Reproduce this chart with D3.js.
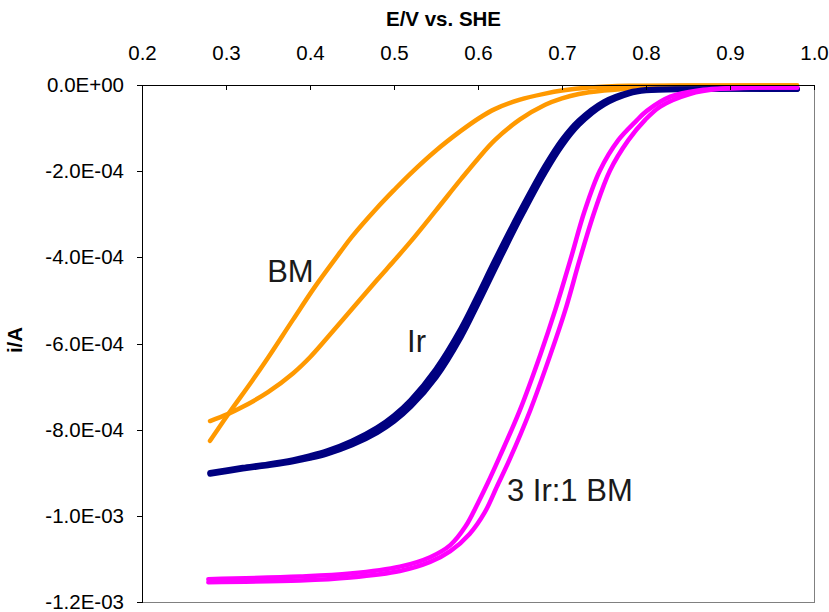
<!DOCTYPE html>
<html>
<head>
<meta charset="utf-8">
<script src="https://cdn.jsdelivr.net/npm/d3@7"></script>
<style>
    body { margin: 0; background: #fff; }
    text { font-family: "Liberation Sans", Arial, sans-serif; fill: #000; }
    .axis path, .axis line { stroke: #000; shape-rendering: crispEdges; }
    .axis text { font-size: 20.5px; }
    .title { font-size: 20.5px; font-weight: bold; }
    .anno { font-size: 31px; fill: #1a1a1a; }
</style>
</head>
<body>
<div id="chart"></div>
<script>

// E / V vs. SHE for each scan branch
let bmFwdE = [0.281, 0.302, 0.331, 0.350, 0.380, 0.406, 0.436, 0.450, 0.480, 0.500, 0.520, 0.550, 0.580, 0.602, 0.620, 0.650, 0.680, 0.700, 0.733, 0.780, 0.864, 0.980]
let bmFwdI = [-8.26, -7.66, -6.87, -6.33, -5.44, -4.68, -3.88, -3.52, -2.85, -2.44, -2.05, -1.52, -1.06, -0.76, -0.56, -0.34, -0.20, -0.13, -0.06, -0.02, -0.01, -0.01]

let bmRevE = [0.281, 0.302, 0.320, 0.350, 0.380, 0.400, 0.420, 0.450, 0.480, 0.500, 0.520, 0.550, 0.580, 0.600, 0.620, 0.650, 0.680, 0.700, 0.720, 0.750, 0.780, 0.800, 0.850, 0.980]
let bmRevI = [-7.80, -7.64, -7.47, -7.13, -6.69, -6.32, -5.88, -5.20, -4.52, -4.08, -3.63, -2.91, -2.18, -1.71, -1.28, -0.80, -0.46, -0.31, -0.21, -0.13, -0.08, -0.05, -0.02, -0.01]

let irE = [0.281, 0.300, 0.320, 0.350, 0.380, 0.400, 0.420, 0.450, 0.480, 0.500, 0.520, 0.550, 0.580, 0.600, 0.620, 0.650, 0.680, 0.700, 0.720, 0.750, 0.780, 0.800, 0.850, 0.980]
let irFwdI = [-9.03, -8.97, -8.91, -8.83, -8.74, -8.66, -8.56, -8.35, -8.06, -7.80, -7.46, -6.78, -5.84, -5.07, -4.27, -3.10, -2.02, -1.40, -0.92, -0.45, -0.20, -0.13, -0.10, -0.10]
let irRevI = [-9.00, -8.94, -8.88, -8.80, -8.70, -8.61, -8.50, -8.27, -7.96, -7.68, -7.32, -6.60, -5.65, -4.88, -4.08, -2.94, -1.88, -1.28, -0.83, -0.39, -0.17, -0.11, -0.09, -0.09]

let mixFwdE = [0.279, 0.388, 0.448, 0.507, 0.543, 0.567, 0.585, 0.600, 0.612, 0.626, 0.650, 0.674, 0.692, 0.710, 0.727, 0.745, 0.767, 0.787, 0.801, 0.829, 0.864, 0.924, 0.980]
let mixFwdI = [-11.47, -11.41, -11.34, -11.18, -10.96, -10.68, -10.25, -9.70, -9.22, -8.62, -7.54, -6.27, -5.22, -4.06, -2.92, -1.99, -1.28, -0.86, -0.60, -0.27, -0.12, -0.06, -0.06]

let mixRevE = [0.279, 0.388, 0.448, 0.507, 0.543, 0.567, 0.590, 0.608, 0.623, 0.637, 0.662, 0.686, 0.704, 0.721, 0.739, 0.757, 0.779, 0.799, 0.817, 0.852, 0.888, 0.936, 0.980]
let mixRevI = [-11.54, -11.50, -11.43, -11.28, -11.07, -10.82, -10.42, -9.92, -9.30, -8.72, -7.56, -6.27, -5.22, -4.06, -2.92, -1.99, -1.28, -0.81, -0.50, -0.21, -0.09, -0.06, -0.06]

// currents above are in units of 1E-04 A
let iUnit = 1e-4

let xTicks = [0.2, 0.3, 0.4, 0.5, 0.6, 0.7, 0.8, 0.9, 1.0]
let yTicks = [0, -2e-4, -4e-4, -6e-4, -8e-4, -1e-3, -1.2e-3]
let yTickLabels = ["0.0E+00", "-2.0E-04", "-4.0E-04", "-6.0E-04", "-8.0E-04", "-1.0E-03", "-1.2E-03"]

let labels = [
    { text: "BM", e: 0.349, i: -4.57 },
    { text: "Ir", e: 0.5155, i: -6.20 },
    { text: "3 Ir:1 BM", e: 0.6345, i: -9.66 }
]


class CvChart {

    constructor(parentElement) {
        this.parentElement = parentElement;

        this.series = [
            { e: bmFwdE, i: bmFwdI, color: "#FF9900", width: 4.5 },
            { e: bmRevE, i: bmRevI, color: "#FF9900", width: 4.5 },
            { e: irE, i: irFwdI, color: "#000080", width: 5.5 },
            { e: irE, i: irRevI, color: "#000080", width: 5.5 },
            { e: mixFwdE, i: mixFwdI, color: "#FF00FF", width: 4.5 },
            { e: mixRevE, i: mixRevI, color: "#FF00FF", width: 4.5 }
        ]

        this.initVis()
    }

    initVis() {
        let vis = this;

        vis.margin = { top: 85, right: 15, bottom: 10, left: 142 };
        vis.width = 829 - vis.margin.left - vis.margin.right;
        vis.height = 612 - vis.margin.top - vis.margin.bottom;

        vis.svgRoot = d3.select("#" + vis.parentElement).append("svg")
            .attr("width", 829)
            .attr("height", 612)

        vis.svg = vis.svgRoot.append("g")
            .attr("transform", `translate(${vis.margin.left}, ${vis.margin.top})`);

        vis.xscale = d3.scaleLinear()
            .domain([0.2, 1.0])
            .range([0, vis.width])

        vis.yscale = d3.scaleLinear()
            .domain([-1.2e-3, 0])
            .range([vis.height, 0])

        // grey plot-area border (right + bottom)
        vis.svg.append("rect")
            .attr("x", 0)
            .attr("y", 0)
            .attr("width", vis.width)
            .attr("height", vis.height)
            .attr("fill", "none")
            .attr("stroke", "#808080")
            .attr("shape-rendering", "crispEdges")

        vis.updateVis()
    }

    updateVis() {
        let vis = this;

        let line = d3.line()
            .x(d => vis.xscale(d[0]))
            .y(d => vis.yscale(d[1] * iUnit))
            .curve(d3.curveCatmullRom.alpha(0.5))

        vis.svg.selectAll(".scan")
            .data(vis.series)
            .join("path")
            .attr("class", "scan")
            .attr("d", s => line(s.e.map((e, k) => [e, s.i[k]])))
            .attr("fill", "none")
            .attr("stroke", s => s.color)
            .attr("stroke-width", s => s.width)
            .attr("stroke-linecap", "round")
            .attr("stroke-linejoin", "round")

        // axes
        vis.xAxis = d3.axisTop(vis.xscale)
            .tickValues(xTicks)
            .tickFormat(d3.format(".1f"))
            .tickSizeInner(-5)
            .tickSizeOuter(0)
            .tickPadding(25)

        vis.yAxis = d3.axisLeft(vis.yscale)
            .tickValues(yTicks)
            .tickFormat((d, k) => yTickLabels[k])
            .tickSizeInner(5)
            .tickSizeOuter(0)
            .tickPadding(13)

        vis.svg.append("g")
            .attr("class", "axis x-axis")
            .call(vis.xAxis)

        vis.svg.append("g")
            .attr("class", "axis y-axis")
            .call(vis.yAxis)

        vis.svg.selectAll(".axis text").attr("fill", "#000")

        // titles
        vis.svgRoot.append("text")
            .attr("class", "title")
            .attr("x", 443.5)
            .attr("y", 26)
            .attr("text-anchor", "middle")
            .text("E/V vs. SHE")

        vis.svgRoot.append("text")
            .attr("class", "title")
            .attr("transform", "translate(22, 340) rotate(-90)")
            .attr("text-anchor", "middle")
            .text("i/A")

        // curve labels
        vis.svg.selectAll(".anno")
            .data(labels)
            .join("text")
            .attr("class", "anno")
            .attr("x", d => vis.xscale(d.e))
            .attr("y", d => vis.yscale(d.i * iUnit))
            .text(d => d.text)
    }
}

let cv = new CvChart("chart")

</script>
</body>
</html>
